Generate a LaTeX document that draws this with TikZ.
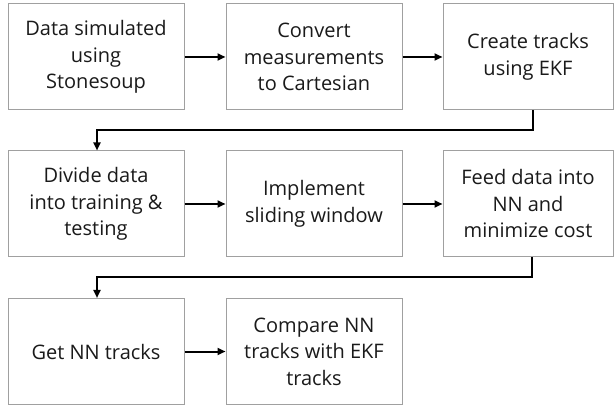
\documentclass[tikz,border=0pt]{standalone}
\usepackage{fontspec}
\setmainfont{Open Sans}
\usetikzlibrary{arrows.meta}
\definecolor{boxline}{HTML}{A0A0A0}
\definecolor{txt}{HTML}{1A1A1A}
\begin{document}
\begin{tikzpicture}[x=1pt,y=-1pt,
  stepbox/.style={draw=boxline,line width=1pt,fill=white,minimum width=176pt,minimum height=106pt,
    align=center,inner sep=0pt,text=txt,font=\fontsize{20}{26.5}\selectfont},
  narrowbox/.style={stepbox,minimum width=170pt},
  arr/.style={line width=2pt,-{Triangle[length=8pt,width=7pt]}}]
\useasboundingbox (0,0) rectangle (615,411);
\node[stepbox] (b1) at (96,57) {Data simulated\\using\\Stonesoup};
\node[stepbox] (b2) at (314,57) {Convert\\measurements\\to Cartesian};
\node[narrowbox] (b3) at (528,57) {Create tracks\\using EKF};
\node[stepbox] (b4) at (96,204) {Divide data\\into training \&\\testing};
\node[stepbox] (b5) at (314,204) {Implement\\sliding window};
\node[narrowbox] (b6) at (528,204) {Feed data into\\NN and\\minimize cost};
\node[stepbox] (b7) at (96,351.5) {Get NN tracks};
\node[stepbox] (b8) at (314,351.5) {Compare NN\\tracks with EKF\\tracks};
\coordinate (e1) at (533,130);
\coordinate (e2) at (532,277);
\draw[arr] (b1) -- (b2);
\draw[arr] (b2) -- (b3);
\draw[arr] (b3.south -| e1) -- (e1) -| ([xshift=1pt]b4.north);
\draw[arr] (b4) -- (b5);
\draw[arr] (b5) -- (b6);
\draw[arr] (b6.south -| e2) -- (e2) -| ([xshift=1pt]b7.north);
\draw[arr] (b7) -- (b8);
\end{tikzpicture}
\end{document}
